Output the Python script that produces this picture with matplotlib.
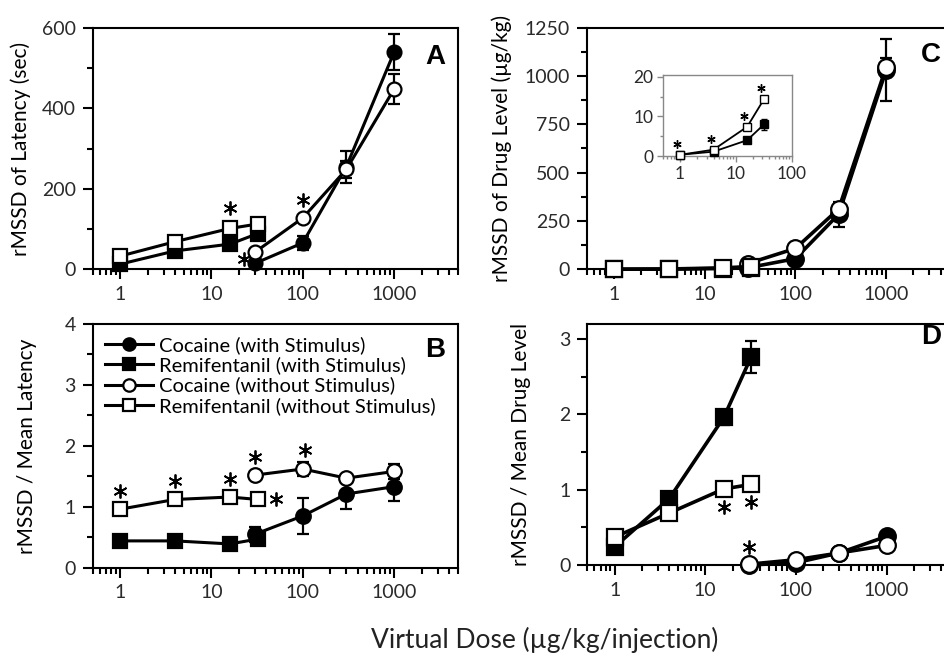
import matplotlib
matplotlib.use("Agg")
import matplotlib.pyplot as plt
import matplotlib.transforms as mtrans
from matplotlib.ticker import FixedLocator, NullFormatter, LogLocator

plt.rcParams['font.family'] = ['Lato', 'DejaVu Sans']

W, H = 944, 663

##### data #####
coc_dose = [30, 100, 300, 1000]
remi_dose = [1, 4, 16, 32]

# A: rMSSD of latency (sec)
a_coc_stim = [14, 65, 255, 540]
a_coc_stim_err = [0, 17, 40, 45]
a_coc_nostim = [42, 127, 248, 448]
a_coc_nostim_err = [0, 0, 22, 38]
a_remi_stim = [12, 45, 62, 88]
a_remi_nostim = [32, 68, 101, 112]

# B: rMSSD / mean latency
b_coc_stim = [0.55, 0.85, 1.21, 1.33]
b_coc_stim_err = [0.12, 0.30, 0.24, 0.23]
b_coc_nostim = [1.52, 1.62, 1.47, 1.58]
b_coc_nostim_err = [0, 0.12, 0, 0.13]
b_remi_stim = [0.44, 0.44, 0.39, 0.47]
b_remi_nostim = [0.96, 1.12, 1.16, 1.12]

# C: rMSSD of drug level (ug/kg)
c_coc_stim = [8, 55, 285, 1030]
c_coc_stim_err = [0, 0, 65, 160]
c_coc_nostim = [30, 108, 312, 1045]
c_coc_nostim_err = [0, 0, 20, 50]
c_remi_stim = [0.3, 1.1, 4.0, 8.0]
c_remi_stim_err = [0, 0, 0, 1.3]
c_remi_nostim = [0.3, 1.6, 7.4, 14.4]

# D: rMSSD / mean drug level
d_coc_stim = [0.0, 0.03, 0.16, 0.38]
d_coc_nostim = [0.01, 0.07, 0.16, 0.26]
d_remi_stim = [0.24, 0.88, 1.96, 2.76]
d_remi_stim_err = [0, 0, 0.10, 0.21]
d_remi_nostim = [0.37, 0.69, 1.01, 1.07]

legend_labels = ["Cocaine (with Stimulus)", "Remifentanil (with Stimulus)",
                 "Cocaine (without Stimulus)", "Remifentanil (without Stimulus)"]
xtick_vals = [1, 10, 100, 1000]
xtick_labels = ["1", "10", "100", "1000"]

fig = plt.figure(figsize=(W / 100, H / 100), dpi=100)


def px_axes(l, t, r, b):
    return fig.add_axes([l / W, 1 - b / H, (r - l) / W, (b - t) / H])


def style_axes(ax, ylim, ymaj, ymin, xlim=(0.5, 5000), lsize=14, col='black', lw=1.5):
    ax.set_xscale('log')
    ax.set_xlim(*xlim)
    ax.set_ylim(*ylim)
    ax.xaxis.set_major_locator(FixedLocator([v for v in xtick_vals if v <= xlim[1]]))
    ax.set_xticklabels([s for v, s in zip(xtick_vals, xtick_labels) if v <= xlim[1]])
    ax.xaxis.set_minor_locator(LogLocator(base=10, subs=range(2, 10)))
    ax.xaxis.set_minor_formatter(NullFormatter())
    ax.yaxis.set_major_locator(FixedLocator(ymaj))
    ax.yaxis.set_minor_locator(FixedLocator(ymin))
    ax.tick_params(which='major', direction='out', length=7, width=lw, labelsize=lsize,
                   color=col, labelcolor='#2a2a2a', pad=5)
    ax.tick_params(which='minor', direction='out', length=4, width=lw, color=col)
    for s in ax.spines.values():
        s.set_linewidth(lw)
        s.set_color(col)


def draw_series(ax, ms, lw=2.2, mew=1.6, cap=4.5, **d):
    # filled first, open on top
    sty = [('o', 'black'), ('s', 'black'), ('o', 'white'), ('s', 'white')]
    lines = []
    for (m, fc), (x, y, e) in zip(sty, d['series']):
        if e is not None:
            ax.errorbar(x, y, yerr=e, fmt='none', ecolor='black', elinewidth=1.6,
                        capsize=cap, capthick=1.6, zorder=2)
        ln, = ax.plot(x, y, marker=m, ms=ms, mfc=fc, mec='black', mew=mew,
                      color='black', lw=lw, zorder=3, clip_on=False)
        lines.append(ln)
    return lines


def stars(ax, specs, size=10, mew=1.3):
    for x, y, dx, dy in specs:
        tr = mtrans.offset_copy(ax.transData, fig=fig, x=dx, y=dy, units='dots')
        ax.plot([x], [y], marker=(6, 2, 0), ms=size, mew=mew, color='black',
                transform=tr, zorder=4, clip_on=False)


# ---- A ----
axA = px_axes(92.5, 28, 458, 269)
style_axes(axA, (0, 600), [0, 200, 400, 600], [100, 300, 500])
draw_series(axA, 10, series=[(coc_dose, a_coc_stim, a_coc_stim_err),
                             (remi_dose, a_remi_stim, None),
                             (coc_dose, a_coc_nostim, a_coc_nostim_err),
                             (remi_dose, a_remi_nostim, None)])
stars(axA, [(remi_dose[2], a_remi_nostim[2], 0, 20),
            (coc_dose[0], a_coc_stim[0], -11, 4),
            (coc_dose[1], a_coc_nostim[1], 0, 18)])
axA.set_ylabel("rMSSD of Latency (sec)", fontsize=15, labelpad=8)

# ---- B ----
axB = px_axes(92.5, 324, 458, 567.7)
style_axes(axB, (0, 4), [0, 1, 2, 3, 4], [0.5, 1.5, 2.5, 3.5])
lnB = draw_series(axB, 10.5, series=[(coc_dose, b_coc_stim, b_coc_stim_err),
                                     (remi_dose, b_remi_stim, None),
                                     (coc_dose, b_coc_nostim, b_coc_nostim_err),
                                     (remi_dose, b_remi_nostim, None)])
stars(axB, [(remi_dose[0], b_remi_nostim[0], 0, 18),
            (remi_dose[1], b_remi_nostim[1], 0, 18),
            (remi_dose[2], b_remi_nostim[2], 0, 18),
            (remi_dose[3], b_remi_nostim[3], 18, 0),
            (coc_dose[0], b_coc_nostim[0], 0, 18),
            (coc_dose[1], b_coc_nostim[1], 2, 19)])
axB.set_ylabel("rMSSD / Mean Latency", fontsize=15, labelpad=20)
leg = axB.legend(lnB, legend_labels, loc='upper left', frameon=False, fontsize=14.5,
                 handlelength=2.4, handletextpad=0.3, labelspacing=0.12,
                 borderaxespad=0.2, markerscale=0.85)

# ---- C ----
axC = px_axes(586.7, 27.7, 949.5, 269.3)
style_axes(axC, (0, 1250), [0, 250, 500, 750, 1000, 1250], [125, 375, 625, 875, 1125])
draw_series(axC, 12, lw=2.6, series=[(coc_dose, c_coc_stim, c_coc_stim_err),
                                     (remi_dose, c_remi_stim, None),
                                     (coc_dose, c_coc_nostim, c_coc_nostim_err),
                                     (remi_dose, c_remi_nostim, None)])
axC.set_ylabel("rMSSD of Drug Level (\u00b5g/kg)", fontsize=15, labelpad=9)

axI = px_axes(663, 75, 791.7, 156)
style_axes(axI, (0, 20.5), [0, 10, 20], [5, 15], xlim=(0.5, 100), lsize=12.5,
           col='#888888', lw=1.0)
axI.tick_params(which='major', length=4, pad=3)
axI.tick_params(which='minor', length=2.5)
for x, y, e, fc in [(remi_dose, c_remi_stim, c_remi_stim_err, 'black'),
                    (remi_dose, c_remi_nostim, None, 'white')]:
    if e is not None:
        axI.errorbar(x, y, yerr=e, fmt='none', ecolor='black', elinewidth=1,
                     capsize=2.5, capthick=1, zorder=2)
    axI.plot(x, y, marker='s', ms=5.5, mfc=fc, mec='black', mew=1, color='black',
             lw=1.3, zorder=3, clip_on=False)
stars(axI, [(remi_dose[i], c_remi_nostim[i], -3, 11) for i in range(4)], size=6, mew=1)

# ---- D ----
axD = px_axes(587.3, 324, 950, 565)
style_axes(axD, (0, 3.2), [0, 1, 2, 3], [0.5, 1.5, 2.5])
draw_series(axD, 12, lw=2.6, series=[(coc_dose, d_coc_stim, None),
                                     (remi_dose, d_remi_stim, d_remi_stim_err),
                                     (coc_dose, d_coc_nostim, None),
                                     (remi_dose, d_remi_nostim, None)])
stars(axD, [(remi_dose[2], d_remi_nostim[2], 0, -18),
            (remi_dose[3], d_remi_nostim[3], 0, -18),
            (coc_dose[0], d_coc_nostim[0], 0, 17)])
axD.set_ylabel("rMSSD / Mean Drug Level", fontsize=15, labelpad=20)

# panel letters
for lab, x, y in [("A", 435, 57), ("B", 435, 350), ("C", 931, 55), ("D", 931, 337)]:
    fig.text(x / W, 1 - y / H, lab, fontsize=20, fontweight='bold',
             family='Liberation Sans', ha='center', va='center')

fig.text(545 / W, 1 - 640 / H, "Virtual Dose (\u00b5g/kg/injection)", fontsize=19,
         color='#222222', ha='center', va='center')

fig.savefig("out.png", dpi=100)
